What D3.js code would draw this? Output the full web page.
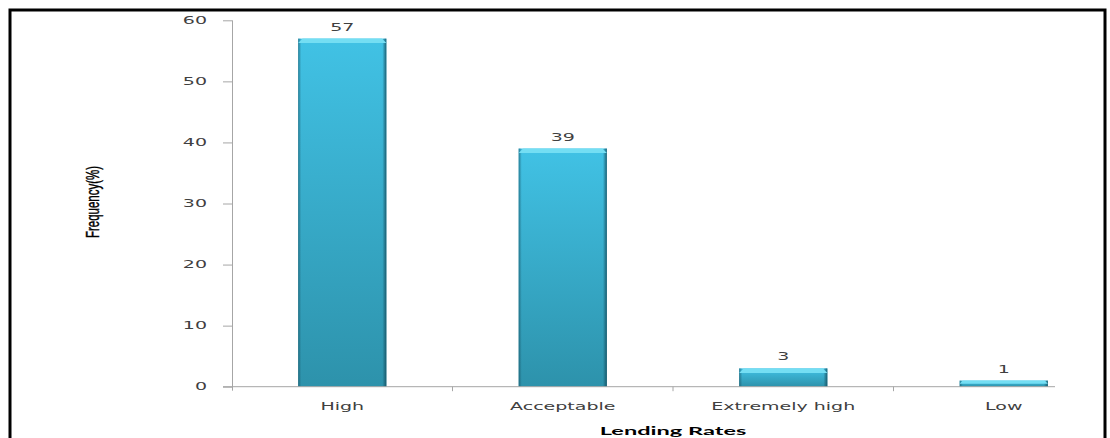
<!DOCTYPE html>
<html>
<head>
<meta charset="utf-8">
<script src="https://cdn.jsdelivr.net/npm/d3@7"></script>
<style>
  html, body { margin: 0; padding: 0; background: #fff; }
  svg { display: block; }
</style>
</head>
<body>
<svg id="chart" width="1110" height="438"></svg>
<script>
// Lending rate perception, share of respondents (%)
const categories = ["High", "Acceptable", "Extremely high", "Low"];
const frequency = [57, 39, 3, 1];
const yTicks = [0, 10, 20, 30, 40, 50, 60];
const xTitle = "Lending Rates";
const yTitle = "Frequency(%)";

const svg = d3.select("#chart");
const plotLeft = 232, bandW = 220.5, plotTop = 20.3, plotBottom = 386.7;
const axisEnd = 1055;
const stretch = 1.9;              // wide, flattened lettering
const labelFont = "DejaVu Sans, Verdana, sans-serif";

const x = d3.scaleBand()
  .domain(categories)
  .range([plotLeft, plotLeft + bandW * categories.length])
  .paddingInner(0.6).paddingOuter(0.3);

const y = d3.scaleLinear().domain([0, 60]).range([plotBottom, plotTop]);

// place a text node at (px, py) with horizontal stretch k
function place(sel, px, py, k) {
  sel.attr("x", 0).attr("y", 0)
    .attr("transform", (d, i) => {
      const X = typeof px === "function" ? px(d, i) : px;
      const Y = typeof py === "function" ? py(d, i) : py;
      return `translate(${X},${Y}) scale(${k},1)`;
    });
}

// outer frame
svg.append("path")
  .attr("d", "M10,438 V10 H1105 V438")
  .attr("fill", "none").attr("stroke", "#000").attr("stroke-width", 3);

// bar gradients
const defs = svg.append("defs");
const vg = defs.append("linearGradient").attr("id", "barV")
  .attr("x1", 0).attr("y1", 0).attr("x2", 0).attr("y2", 1);
vg.append("stop").attr("offset", 0).attr("stop-color", "#41c2e5");
vg.append("stop").attr("offset", 1).attr("stop-color", "#2d92ab");
const hg = defs.append("linearGradient").attr("id", "barH")
  .attr("x1", 0).attr("y1", 0).attr("x2", 1).attr("y2", 0);
hg.append("stop").attr("offset", 0).attr("stop-color", "#154f60").attr("stop-opacity", 0.6);
hg.append("stop").attr("offset", 0.035).attr("stop-color", "#154f60").attr("stop-opacity", 0);
hg.append("stop").attr("offset", 0.955).attr("stop-color", "#154f60").attr("stop-opacity", 0);
hg.append("stop").attr("offset", 1).attr("stop-color", "#154f60").attr("stop-opacity", 0.85);

const bars = svg.append("g").selectAll("g").data(categories).join("g");
bars.append("rect")
  .attr("x", d => x(d)).attr("width", x.bandwidth())
  .attr("y", (d, i) => y(frequency[i]))
  .attr("height", (d, i) => plotBottom - y(frequency[i]))
  .attr("fill", "url(#barV)");
bars.append("rect")
  .attr("x", d => x(d)).attr("width", x.bandwidth())
  .attr("y", (d, i) => y(frequency[i]))
  .attr("height", (d, i) => plotBottom - y(frequency[i]))
  .attr("fill", "url(#barH)");
// bevelled top edge
bars.append("path")
  .attr("d", (d, i) => {
    const x0 = x(d), x1 = x0 + x.bandwidth(), yt = y(frequency[i]);
    const b = Math.min(4.5, (plotBottom - yt) / 2);
    return `M${x0},${yt + b} L${x0 + b},${yt} L${x1 - b},${yt} L${x1},${yt + b} Z`;
  })
  .attr("fill", "#74def3");

// value labels
svg.append("g").selectAll("text").data(categories).join("text")
  .call(place, d => x(d) + x.bandwidth() / 2, (d, i) => y(frequency[i]) - 8, stretch)
  .attr("text-anchor", "middle")
  .attr("font-family", labelFont)
  .attr("font-size", 10).attr("fill", "#404040")
  .text((d, i) => frequency[i]);

// y axis
const yAxis = svg.append("g").attr("transform", `translate(${plotLeft},0)`)
  .call(d3.axisLeft(y).tickValues(yTicks).tickSize(9).tickPadding(16));
yAxis.select(".domain").attr("stroke", "#a6a6a6")
  .attr("d", `M0.5,${plotBottom + 4}V${plotTop}`);
yAxis.selectAll(".tick line").attr("stroke", "#a6a6a6");
yAxis.selectAll(".tick text")
  .attr("font-family", labelFont)
  .attr("font-size", 10).attr("fill", "#404040")
  .attr("dy", null).attr("dominant-baseline", "central")
  .attr("transform", function () {
    return `translate(${this.getAttribute("x")},0) scale(${stretch},1)`;
  })
  .attr("x", 0);

// x axis
const xAxisG = svg.append("g");
xAxisG.append("line")
  .attr("x1", plotLeft - 9).attr("x2", axisEnd)
  .attr("y1", plotBottom).attr("y2", plotBottom)
  .attr("stroke", "#a6a6a6");
const bounds = d3.range(1, categories.length).map(i => plotLeft + bandW * i)
  .filter(v => v <= axisEnd);
xAxisG.selectAll(".bt").data(bounds).join("line").attr("class", "bt")
  .attr("x1", d => d).attr("x2", d => d)
  .attr("y1", plotBottom).attr("y2", plotBottom + 4.5)
  .attr("stroke", "#a6a6a6");
xAxisG.selectAll("text").data(categories).join("text")
  .call(place, d => x(d) + x.bandwidth() / 2, 410, stretch)
  .attr("text-anchor", "middle")
  .attr("font-family", labelFont)
  .attr("font-size", 10).attr("fill", "#404040")
  .text(d => d);

// axis titles
svg.append("text")
  .call(place, plotLeft + bandW * categories.length / 2, 435, 2.05)
  .attr("text-anchor", "middle")
  .attr("font-family", "Lato, Open Sans, sans-serif")
  .attr("font-weight", "bold").attr("font-size", 11.5).attr("fill", "#000")
  .text(xTitle);

svg.append("text")
  .attr("transform", "translate(99,202) scale(1.6,1) rotate(-90)")
  .attr("text-anchor", "middle")
  .attr("font-family", "Liberation Sans, Arial, sans-serif")
  .attr("font-size", 11.5).attr("fill", "#000")
  .attr("stroke", "#000").attr("stroke-width", 0.25)
  .text(yTitle);
</script>
</body>
</html>
